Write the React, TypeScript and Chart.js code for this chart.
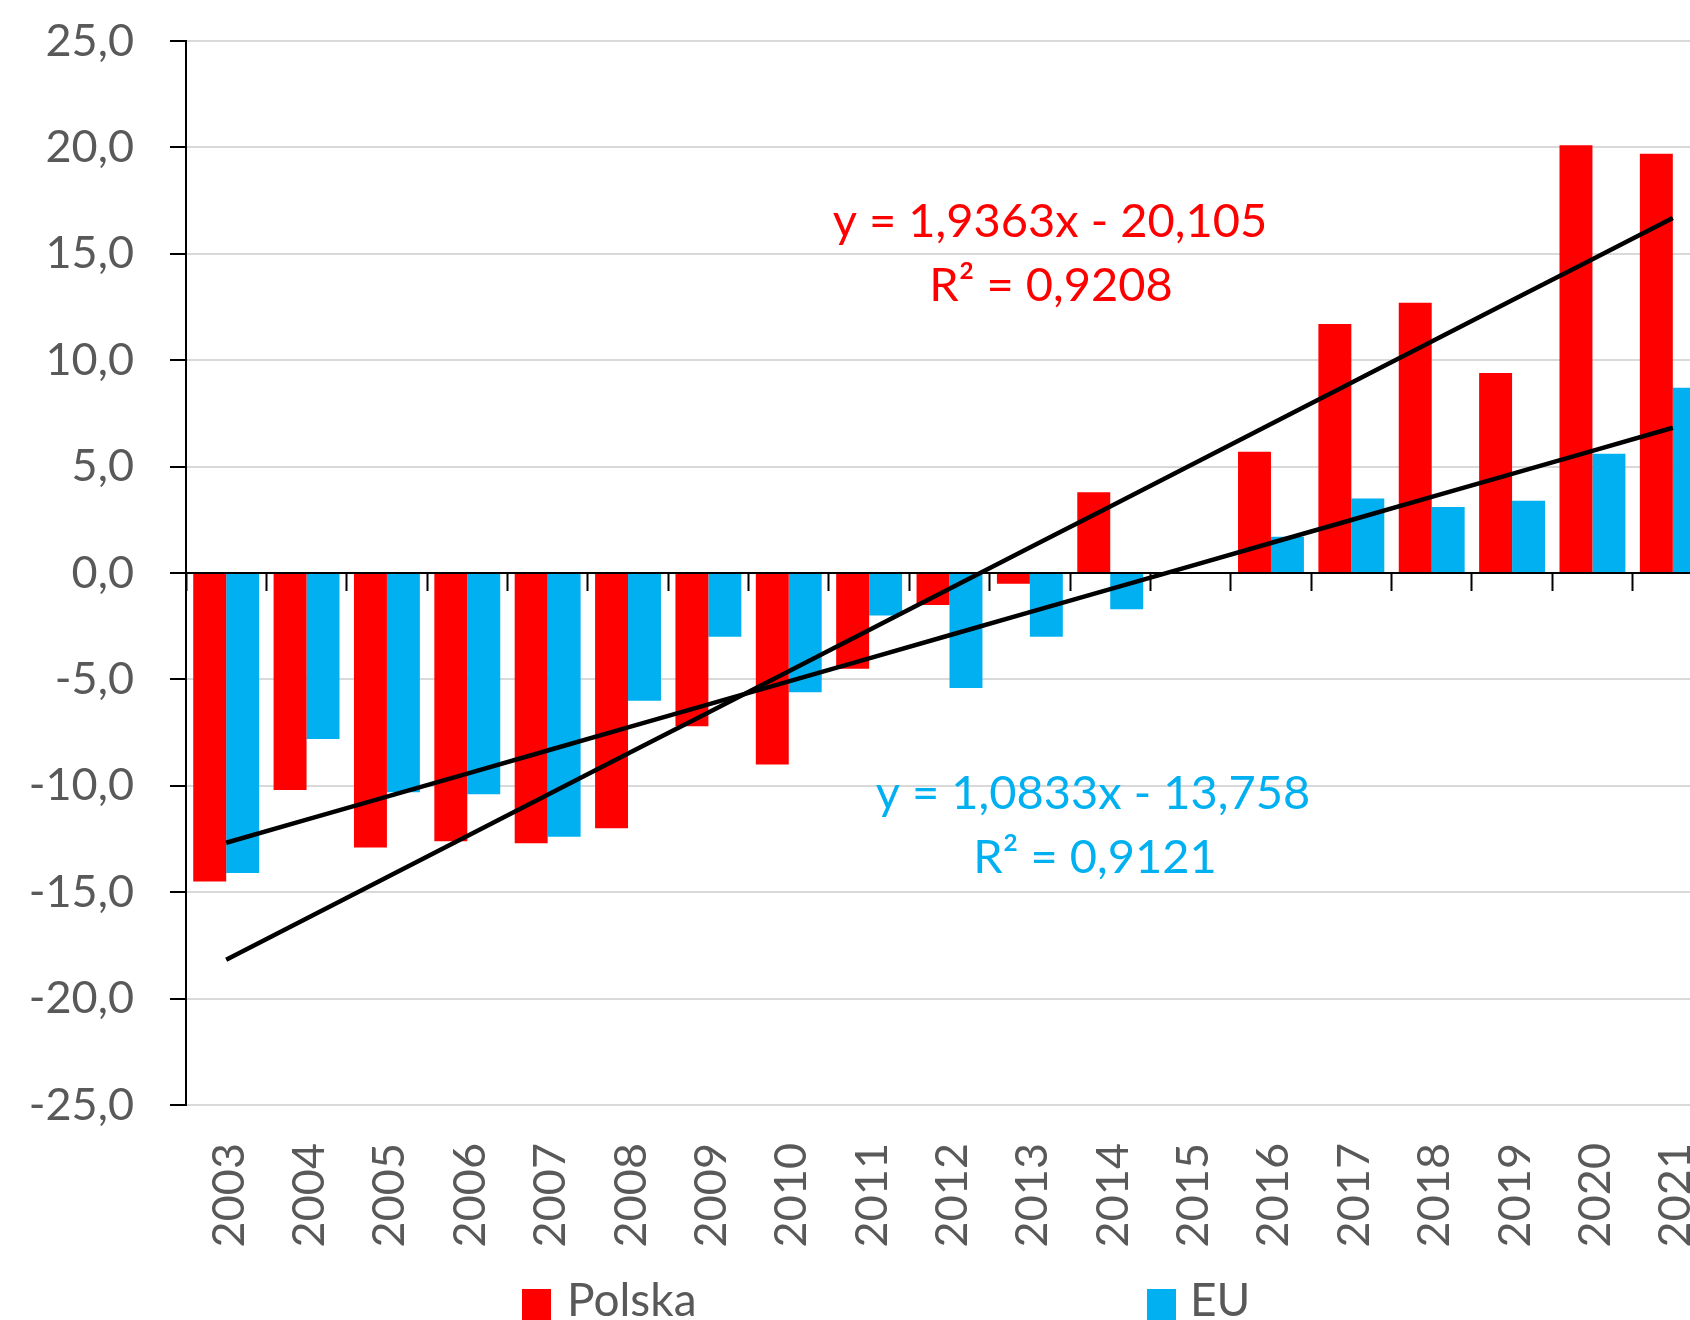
import React, { useEffect, useRef } from "react";
import { Chart, registerables } from "chart.js";

Chart.register(...registerables);

// ---- data ----
const years = [
  "2003", "2004", "2005", "2006", "2007", "2008", "2009", "2010", "2011", "2012",
  "2013", "2014", "2015", "2016", "2017", "2018", "2019", "2020", "2021",
];
const polska = [
  -14.5, -10.2, -12.9, -12.6, -12.7, -12.0, -7.2, -9.0, -4.5, -1.5,
  -0.5, 3.8, null, 5.7, 11.7, 12.7, 9.4, 20.1, 19.7,
];
const eu = [
  -14.1, -7.8, -10.3, -10.4, -12.4, -6.0, -3.0, -5.6, -2.0, -5.4,
  -3.0, -1.7, null, 1.7, 3.5, 3.1, 3.4, 5.6, 8.7,
];
const yMin = -25;
const yMax = 25;
const yStep = 5;
// trendline equations as printed on the chart
const polskaSlope = 1.9363;
const polskaIntercept = -20.105;
const polskaR2 = 0.9208;
const euSlope = 1.0833;
const euIntercept = -13.758;
const euR2 = 0.9121;

const RED = "#FF0000";
const BLUE = "#00B0F0";
const GREY_TEXT = "#595959";
const FONT = "Lato";

const fmt = (v: number, d: number) => v.toFixed(d).replace(".", ",");
const eqText = (s: number, b: number) =>
  `y = ${fmt(s, 4)}x ${b < 0 ? "-" : "+"} ${fmt(Math.abs(b), 3)}`;
const trend = (s: number, b: number) => years.map((_, i) => s * (i + 1) + b);

const annotations = {
  id: "annotations",
  afterDatasetsDraw(chart: any) {
    const ctx = chart.ctx;
    ctx.save();
    ctx.textAlign = "center";
    ctx.textBaseline = "alphabetic";
    ctx.font = `47px ${FONT}`;
    ctx.fillStyle = RED;
    ctx.fillText(eqText(polskaSlope, polskaIntercept), 1050, 237);
    ctx.fillText(`R² = ${fmt(polskaR2, 4)}`, 1051, 301);
    ctx.fillStyle = BLUE;
    ctx.fillText(eqText(euSlope, euIntercept), 1093, 809);
    ctx.fillText(`R² = ${fmt(euR2, 4)}`, 1095, 873);
    ctx.restore();
  },
  afterDraw(chart: any) {
    const ctx = chart.ctx;
    ctx.save();
    ctx.font = `46px ${FONT}`;
    ctx.textAlign = "left";
    ctx.textBaseline = "alphabetic";
    ctx.fillStyle = RED;
    ctx.fillRect(522, 1289, 29, 31);
    ctx.fillStyle = BLUE;
    ctx.fillRect(1147, 1289, 29, 31);
    ctx.fillStyle = GREY_TEXT;
    ctx.fillText("Polska", 567, 1316);
    ctx.fillText("EU", 1190, 1316);
    ctx.restore();
  },
};

const noPad = (s: any) => {
  s.paddingTop = 0;
  s.paddingBottom = 0;
  s.paddingLeft = 0;
  s.paddingRight = 0;
};

export default function App() {
  const ref = useRef<HTMLCanvasElement>(null);
  useEffect(() => {
    if (!ref.current) return;
    const chart = new Chart(ref.current, {
      type: "bar",
      data: {
        labels: years,
        datasets: [
          {
            type: "line",
            label: "Trend Polska",
            data: trend(polskaSlope, polskaIntercept),
            borderColor: "#000",
            borderWidth: 4.5,
            pointRadius: 0,
            order: 0,
          } as any,
          {
            type: "line",
            label: "Trend EU",
            data: trend(euSlope, euIntercept),
            borderColor: "#000",
            borderWidth: 4.5,
            pointRadius: 0,
            order: 0,
          } as any,
          {
            label: "Polska",
            data: polska,
            backgroundColor: RED,
            categoryPercentage: 0.82,
            barPercentage: 1.0,
            order: 1,
          },
          {
            label: "EU",
            data: eu,
            backgroundColor: BLUE,
            categoryPercentage: 0.82,
            barPercentage: 1.0,
            order: 1,
          },
        ],
      },
      options: {
        animation: false,
        responsive: false,
        devicePixelRatio: 1,
        layout: { padding: { top: 41, left: 0, right: 1, bottom: 0 } },
        plugins: {
          legend: { display: false },
          tooltip: { enabled: false },
        },
        scales: {
          x: {
            type: "category",
            position: "bottom",
            grid: { display: false, drawTicks: false },
            border: { display: false },
            ticks: {
              autoSkip: false,
              minRotation: 90,
              maxRotation: 90,
              padding: 38,
              labelOffset: 3,
              color: GREY_TEXT,
              font: { family: FONT, size: 45 },
            },
            afterFit: (s: any) => {
              s.height = 215;
              noPad(s);
            },
          },
          x2: {
            type: "category",
            axis: "x",
            position: { y: 0 },
            offset: true,
            grid: {
              drawOnChartArea: false,
              drawTicks: true,
              tickLength: 17,
              tickColor: "#000",
              tickWidth: 2,
              offset: true,
            },
            border: { display: true, color: "#000", width: 2 },
            ticks: { display: false },
            afterFit: noPad,
          } as any,
          y: {
            min: yMin,
            max: yMax,
            ticks: {
              stepSize: yStep,
              padding: 36,
              color: GREY_TEXT,
              font: { family: FONT, size: 45 },
              callback: (v: any) => fmt(Number(v), 1),
            },
            grid: {
              color: (c: any) => (c.tick && c.tick.value === 0 ? "#000" : "#D9D9D9"),
              lineWidth: 2,
              tickLength: 16,
              tickColor: "#000",
              tickWidth: 2,
            },
            border: { display: true, color: "#000", width: 2 },
            afterFit: (s: any) => {
              s.width = 186;
              noPad(s);
            },
          },
        },
      },
      plugins: [annotations],
    });
    return () => chart.destroy();
  }, []);

  return (
    <div
      style={{
        position: "absolute",
        left: 0,
        top: 0,
        width: 1690,
        height: 1320,
        overflow: "hidden",
        background: "#fff",
      }}
    >
      <canvas ref={ref} width={1714} height={1320} style={{ display: "block" }} />
    </div>
  );
}
